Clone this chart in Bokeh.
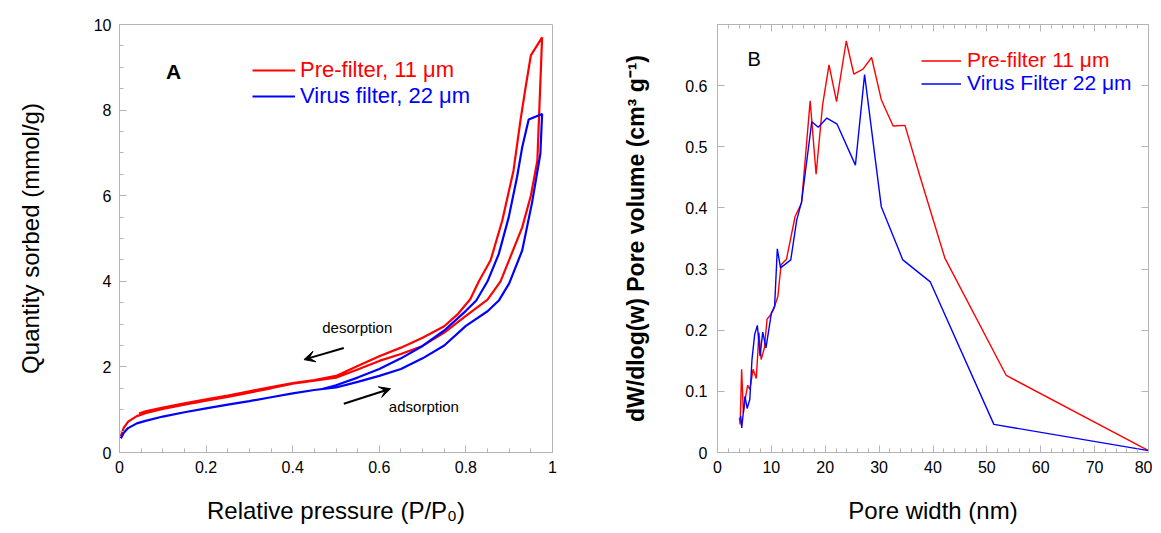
import numpy as np
from bokeh.plotting import figure
from bokeh.layouts import row
from bokeh.models import (Legend, LegendItem, Label, Arrow, VeeHead, LinearAxis,
                          SingleIntervalTicker, CustomJSTickFormatter)
from bokeh.embed import file_html
from bokeh.resources import INLINE

# ---------------- Data: panel A (isotherms) ----------------
pre_ads_p = [0.003, 0.01, 0.02, 0.04, 0.06, 0.1, 0.15, 0.2, 0.25, 0.3, 0.35, 0.4, 0.45, 0.5,
             0.55, 0.6, 0.65, 0.7, 0.75, 0.8, 0.85, 0.88, 0.9, 0.93, 0.95, 0.965, 0.976]
pre_ads_q = [0.38, 0.58, 0.72, 0.85, 0.92, 1.02, 1.12, 1.21, 1.30, 1.40, 1.50, 1.61, 1.68, 1.75,
             1.94, 2.14, 2.30, 2.49, 2.80, 3.19, 3.57, 4.0, 4.5, 5.26, 6.0, 6.82, 9.7]
pre_des_p = [0.95, 0.938, 0.926, 0.91, 0.884, 0.857, 0.83, 0.81, 0.78, 0.75, 0.7, 0.65, 0.6,
             0.55, 0.5, 0.45, 0.4, 0.35, 0.3, 0.25, 0.2, 0.15, 0.1, 0.06, 0.045]
pre_des_q = [9.28, 8.54, 7.76, 6.59, 5.42, 4.49, 4.0, 3.58, 3.22, 2.95, 2.68, 2.45, 2.25,
             2.02, 1.79, 1.69, 1.62, 1.53, 1.43, 1.33, 1.24, 1.15, 1.05, 0.96, 0.91]

vir_ads_p = [0.003, 0.01, 0.02, 0.04, 0.06, 0.1, 0.15, 0.2, 0.25, 0.3, 0.35, 0.4, 0.45, 0.5,
             0.55, 0.6, 0.65, 0.7, 0.75, 0.8, 0.85, 0.876, 0.9, 0.93, 0.953, 0.972, 0.976]
vir_ads_q = [0.33, 0.46, 0.57, 0.68, 0.74, 0.84, 0.94, 1.03, 1.12, 1.20, 1.29, 1.38, 1.46, 1.52,
             1.65, 1.79, 1.95, 2.20, 2.50, 2.96, 3.30, 3.55, 3.95, 4.72, 5.85, 6.98, 7.91]
vir_des_p = [0.945, 0.93, 0.918, 0.899, 0.876, 0.85, 0.824, 0.8, 0.75, 0.7, 0.65, 0.6,
             0.55, 0.5, 0.47]
vir_des_q = [7.78, 7.13, 6.43, 5.50, 4.64, 4.0, 3.55, 3.31, 2.85, 2.49, 2.20, 1.95,
             1.75, 1.57, 1.49]

# ---------------- Data: panel B (pore size distribution) ----------------
pre_w = [4.05, 4.2, 4.48, 4.8, 5.2, 5.6, 6.0, 6.6, 7.2, 7.7, 8.1, 8.7, 9.2, 9.9, 10.4, 11.2,
         11.8, 12.8, 14.4, 15.6, 17.2, 18.3, 19.5, 20.7, 22.1, 23.9, 25.3, 27.0, 28.6, 30.4,
         32.6, 34.8, 37.6, 42.2, 53.6, 80.0]
pre_v = [0.057, 0.046, 0.136, 0.065, 0.09, 0.11, 0.103, 0.136, 0.121, 0.196, 0.152, 0.171,
         0.218, 0.226, 0.234, 0.255, 0.307, 0.316, 0.386, 0.408, 0.575, 0.455, 0.568, 0.634,
         0.574, 0.673, 0.619, 0.627, 0.646, 0.577, 0.534, 0.535, 0.451, 0.318, 0.126, 0.003]
vir_w = [4.3, 4.5, 5.1, 5.5, 6.0, 6.4, 6.9, 7.4, 7.9, 8.4, 9.0, 10.0, 10.6, 11.1, 11.7, 13.6,
         14.7, 15.6, 17.5, 18.7, 20.3, 22.2, 25.6, 27.3, 30.4, 34.4, 39.5, 51.3, 80.0]
vir_v = [0.06, 0.04, 0.092, 0.072, 0.087, 0.152, 0.193, 0.208, 0.158, 0.197, 0.171, 0.228,
         0.239, 0.333, 0.302, 0.315, 0.38, 0.41, 0.541, 0.532, 0.547, 0.537, 0.470, 0.618,
         0.402, 0.315, 0.279, 0.046, 0.003]

labels_A = ["Pre-filter, 11 \u03bcm", "Virus filter, 22 \u03bcm"]
labels_B = ["Pre-filter 11 \u03bcm", "Virus Filter 22 \u03bcm"]

RED = "#ff0000"
BLUE = "#0000ff"
GREY = "#b4b4b4"
FONT = "Liberation Sans"

fmt = CustomJSTickFormatter(code="return String(Math.round(tick*1000)/1000)")


def style_axis(ax, label_size="16px"):
    ax.axis_line_color = GREY
    ax.major_tick_line_color = GREY
    ax.minor_tick_line_color = GREY
    ax.major_tick_in = 7
    ax.major_tick_out = 0
    ax.minor_tick_in = 4
    ax.minor_tick_out = 0
    ax.major_label_text_font = FONT
    ax.major_label_text_font_size = label_size
    ax.major_label_text_color = "black"
    ax.axis_label_text_font = FONT
    ax.axis_label_text_font_style = "normal"
    ax.axis_label_text_color = "black"


# ================= Panel A =================
pA = figure(width=620, height=532, x_range=(0, 1), y_range=(0, 10),
            output_backend="svg", toolbar_location=None,
            min_border_left=119, min_border_right=68, min_border_top=24, min_border_bottom=80)
pA.grid.visible = False
pA.outline_line_color = GREY
pA.background_fill_color = "white"

pA.xaxis.ticker = SingleIntervalTicker(interval=0.2, num_minor_ticks=4)
pA.yaxis.ticker = SingleIntervalTicker(interval=2, num_minor_ticks=4)
pA.xaxis.formatter = fmt
pA.yaxis.formatter = fmt
for ax in (pA.xaxis[0], pA.yaxis[0]):
    style_axis(ax)
pA.xaxis.axis_label = "Relative pressure (P/P\u2080)"
pA.yaxis.axis_label = "Quantity sorbed (mmol/g)"
pA.xaxis.axis_label_text_font_size = "24px"
pA.yaxis.axis_label_text_font_size = "24px"
pA.xaxis.major_label_standoff = 8
pA.yaxis.major_label_standoff = 8
pA.xaxis.axis_label_standoff = 21
pA.yaxis.axis_label_standoff = 47

rA1 = pA.line(np.concatenate([pre_ads_p, pre_des_p]), np.concatenate([pre_ads_q, pre_des_q]),
              line_color=RED, line_width=2.2)
rA2 = pA.line(np.concatenate([vir_ads_p, vir_des_p]), np.concatenate([vir_ads_q, vir_des_q]),
              line_color=BLUE, line_width=2.2)

for lab, r, col, yb in ((labels_A[0], rA1, RED, 369), (labels_A[1], rA2, BLUE, 343)):
    lg = Legend(items=[LegendItem(label=lab, renderers=[r])], location=(133, yb),
                padding=0, margin=0, spacing=0, border_line_color=None,
                background_fill_alpha=0, glyph_width=43, glyph_height=26, label_height=26,
                label_standoff=5, label_text_font=FONT, label_text_font_size="22px",
                label_text_color=col)
    pA.add_layout(lg)

pA.add_layout(Label(x=0.125, y=8.9, text="A", text_font=FONT, text_font_size="21px",
                    text_font_style="bold", text_align="center", text_baseline="middle",
                    text_color="black"))
pA.add_layout(Label(x=0.549, y=2.93, text="desorption", text_font=FONT, text_font_size="15px",
                    text_align="center", text_baseline="middle", text_color="black"))
pA.add_layout(Label(x=0.703, y=1.07, text="adsorption", text_font=FONT, text_font_size="15px",
                    text_align="center", text_baseline="middle", text_color="black"))
pA.add_layout(Arrow(end=VeeHead(size=11, fill_color="black", line_color="black"),
                    x_start=0.518, y_start=2.44, x_end=0.426, y_end=2.17,
                    line_color="black", line_width=2))
pA.add_layout(Arrow(end=VeeHead(size=11, fill_color="black", line_color="black"),
                    x_start=0.518, y_start=1.14, x_end=0.626, y_end=1.49,
                    line_color="black", line_width=2))

# ================= Panel B =================
pB = figure(width=532, height=532, x_range=(0, 80), y_range=(0, 0.7),
            output_backend="svg", toolbar_location=None,
            min_border_left=96, min_border_right=4, min_border_top=24, min_border_bottom=80)
pB.grid.visible = False
pB.outline_line_color = GREY

pB.xaxis.ticker = SingleIntervalTicker(interval=10, num_minor_ticks=5)
pB.yaxis.ticker = SingleIntervalTicker(interval=0.1, num_minor_ticks=0)
pB.xaxis.formatter = fmt
pB.yaxis.formatter = fmt
for ax in (pB.xaxis[0], pB.yaxis[0]):
    style_axis(ax)
pB.xaxis.axis_label = "Pore width (nm)"
pB.yaxis.axis_label = "dW/dlog(w) Pore volume (cm\u00b3 g\u207b\u00b9)"
pB.xaxis.axis_label_text_font_size = "24px"
pB.yaxis.axis_label_text_font_size = "23px"
pB.yaxis.axis_label_text_font_style = "bold"
pB.xaxis.major_label_standoff = 8
pB.yaxis.major_label_standoff = 10
pB.xaxis.axis_label_standoff = 21
pB.yaxis.axis_label_standoff = 33

top_ax = LinearAxis(ticker=SingleIntervalTicker(interval=10, num_minor_ticks=5))
right_ax = LinearAxis(ticker=SingleIntervalTicker(interval=0.1, num_minor_ticks=0))
for ax in (top_ax, right_ax):
    style_axis(ax, label_size="0px")
    ax.major_label_standoff = 0
    ax.major_label_text_alpha = 0
pB.add_layout(top_ax, "above")
pB.add_layout(right_ax, "right")

rB1 = pB.line(pre_w, pre_v, line_color=RED, line_width=1.4)
rB2 = pB.line(vir_w, vir_v, line_color=BLUE, line_width=1.4)

for lab, r, col, yb in ((labels_B[0], rB1, RED, 380), (labels_B[1], rB2, BLUE, 357)):
    lg = Legend(items=[LegendItem(label=lab, renderers=[r])], location=(204, yb),
                padding=0, margin=0, spacing=0, border_line_color=None,
                background_fill_alpha=0, glyph_width=40, glyph_height=23, label_height=23,
                label_standoff=6, label_text_font=FONT, label_text_font_size="21px",
                label_text_color=col)
    pB.add_layout(lg)

pB.add_layout(Label(x=6.8, y=0.643, text="B", text_font=FONT, text_font_size="20px",
                    text_align="center", text_baseline="middle", text_color="black"))

layout = row(pA, pB)
with open("out.html", "w") as f:
    f.write(file_html(layout, INLINE))
